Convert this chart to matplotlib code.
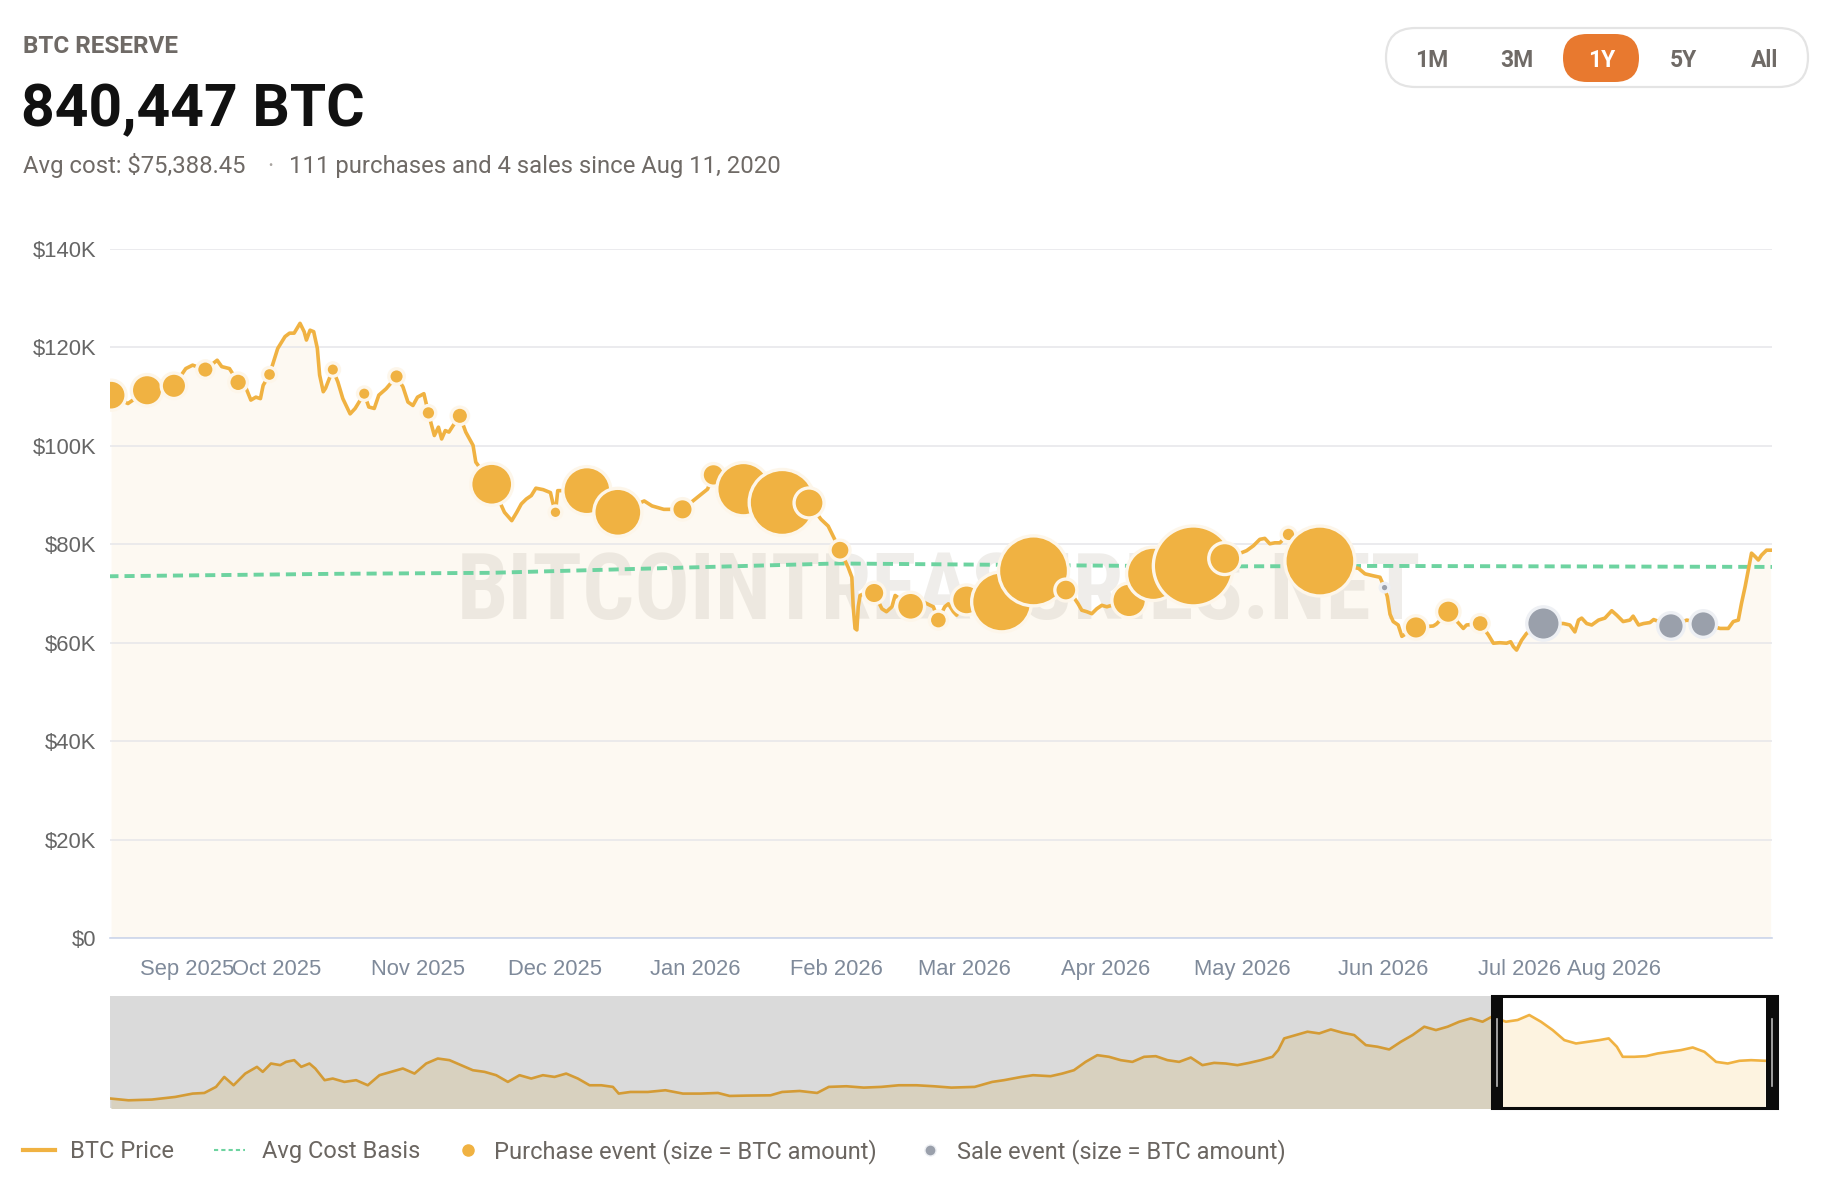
import numpy as np
import pandas as pd
import matplotlib
matplotlib.use("Agg")
import matplotlib.pyplot as plt
import matplotlib.dates as mdates
from matplotlib.patches import FancyBboxPatch, Rectangle
from matplotlib.lines import Line2D
from matplotlib.transforms import IdentityTransform
from matplotlib.ticker import FuncFormatter

W, H = 1830, 1190
start = pd.Timestamp("2025-08-25")

# BTC price, days after 2025-08-25, price in $K
price_days = [0.6, 4.3, 8.5, 14.4, 17.0, 18.5, 21.3, 23.9, 24.9, 26.6,
              28.5, 30.3, 31.3, 32.4, 33.4, 34.0, 35.4, 37.2, 38.8, 39.8,
              40.8, 42.1, 43.0, 43.5, 44.3, 45.1, 45.9, 46.4, 47.2, 47.7,
              49.3, 50.4, 51.5, 53.1, 54.2, 56.2, 57.2, 58.4, 59.4, 61.0,
              63.3, 64.7, 65.8, 66.9, 67.9, 69.3, 70.3, 70.9, 71.6, 72.5,
              73.2, 74.0, 74.8, 75.7, 77.2, 78.5, 80.1, 80.7, 84.2, 87.0,
              88.6, 89.7, 90.7, 91.8, 92.9, 93.9, 95.5, 97.1, 97.6, 98.2,
              98.7, 105.1, 111.9, 117.7, 119.4, 122.0, 126.1, 128.9, 131.6, 132.9,
              139.5, 148.0, 153.9, 156.5, 158.1, 160.7, 162.5, 163.3, 163.6, 164.0,
              164.4, 164.7, 165.1, 165.8, 168.2, 169.9, 170.9, 172.1, 172.8, 176.2,
              179.0, 180.5, 181.2, 182.3, 183.7, 184.5, 185.6, 186.3, 188.5, 196.2,
              203.2, 210.3, 212.0, 213.0, 213.8, 214.9, 216.0, 217.1, 218.2, 219.3,
              224.2, 229.5, 238.3, 245.2, 248.9, 250.0, 251.5, 252.9, 254.0, 255.1,
              256.2, 257.3, 259.2, 266.1, 274.6, 276.0, 277.8, 279.3, 280.3, 280.9,
              281.5, 282.2, 283.3, 284.1, 287.2, 291.0, 291.7, 294.3, 296.9, 297.6,
              298.3, 301.3, 303.1, 304.2, 305.6, 307.1, 308.0, 308.6, 309.3, 310.4,
              311.5, 315.2, 319.6, 321.0, 322.1, 322.9, 323.6, 324.7, 325.8, 327.3,
              328.7, 330.2, 331.3, 332.7, 334.2, 334.9, 336.1, 337.2, 338.6, 339.4,
              343.2, 346.7, 350.3, 354.0, 355.8, 356.9, 358.0, 358.7, 359.5, 360.2,
              360.9, 361.7, 362.4, 363.1, 364.2, 365.1]
price_k = [110.3, 108.6, 111.3, 112.2, 115.7, 116.4, 115.5, 117.4, 116.1, 115.7,
           112.9, 111.6, 109.3, 109.9, 109.6, 112.3, 114.5, 119.8, 122.2, 122.9,
           122.9, 124.9, 123.2, 121.5, 123.5, 123.2, 119.8, 114.4, 111.0, 111.7,
           115.5, 113.0, 109.6, 106.5, 107.6, 110.6, 107.9, 107.6, 110.3, 111.6,
           114.1, 112.0, 108.9, 108.2, 109.9, 110.6, 106.7, 104.5, 102.1, 103.8,
           101.4, 103.1, 102.8, 104.1, 106.1, 102.8, 100.1, 96.7, 92.2, 86.5,
           84.8, 86.5, 88.2, 89.2, 89.9, 91.4, 91.1, 90.5, 88.5, 86.5,
           90.9, 90.9, 86.5, 88.8, 87.8, 87.1, 87.1, 89.2, 91.2, 94.1,
           91.2, 88.5, 88.4, 85.1, 83.7, 78.8, 75.3, 73.3, 67.3, 62.9,
           62.6, 67.3, 69.6, 69.9, 70.1, 66.9, 66.3, 67.3, 69.6, 67.4,
           68.3, 67.6, 67.3, 64.6, 67.3, 67.9, 66.3, 65.6, 68.7, 68.3,
           74.6, 70.7, 69.3, 67.9, 66.6, 66.3, 65.9, 66.9, 67.6, 67.3,
           68.6, 74.0, 75.6, 77.1, 78.3, 78.7, 79.7, 81.0, 81.2, 80.1,
           80.3, 80.3, 82.0, 76.6, 75.1, 74.0, 73.6, 73.3, 71.2, 69.4,
           65.8, 64.3, 63.6, 61.3, 63.1, 63.4, 63.8, 66.3, 63.6, 62.9,
           63.6, 63.9, 61.6, 59.9, 60.0, 59.9, 60.2, 59.2, 58.5, 60.5,
           61.9, 63.9, 63.9, 63.6, 62.2, 64.6, 65.0, 63.9, 63.6, 64.6,
           65.0, 66.5, 65.6, 64.3, 64.6, 65.4, 63.6, 63.9, 64.1, 64.7,
           63.4, 64.6, 63.8, 62.9, 62.9, 64.3, 64.6, 68.0, 71.4, 74.8,
           78.2, 77.5, 76.8, 77.8, 78.8, 78.8]

# average cost basis ($K)
cost_days = [0, 50, 84, 112, 140, 160, 200, 240, 280, 365.4]
cost_k = [73.5, 74.0, 74.2, 74.9, 75.6, 76.1, 75.8, 75.5, 75.6, 75.4]

# purchase events
buy_days = [0.6, 8.5, 14.4, 21.3, 28.5, 35.4, 49.3, 56.2, 63.3, 70.3,
            77.2, 84.2, 98.2, 105.1, 111.9, 126.1, 132.9, 139.5, 148.0, 153.9,
            160.7, 168.2, 176.2, 182.3, 188.5, 196.2, 203.2, 210.3, 224.2, 229.5,
            238.3, 245.2, 259.2, 266.1, 287.2, 294.3, 301.3]
buy_k = [110.3, 111.3, 112.2, 115.5, 112.9, 114.5, 115.5, 110.6, 114.1, 106.7,
         106.1, 92.2, 86.5, 90.9, 86.5, 87.1, 94.1, 91.2, 88.5, 88.4,
         78.8, 70.1, 67.4, 64.6, 68.7, 68.3, 74.6, 70.7, 68.6, 74.0,
         75.6, 77.1, 82.0, 76.6, 63.1, 66.3, 63.9]
buy_btc = [3150, 3450, 2260, 1060, 1210, 690, 630, 630, 830, 750,
           1060, 6170, 560, 8060, 8060, 1600, 1790, 9980, 15250, 3150,
           1400, 1600, 2740, 1130, 3150, 12600, 17150, 1690, 4190, 9980,
           22400, 3580, 750, 17150, 1920, 1920, 1130]

# sale events
sell_days = [280.3, 315.2, 343.2, 350.3]
sell_k = [71.2, 63.9, 63.4, 63.8]
sell_btc = [260, 3900, 2480, 2480]

# navigator: full history, days relative to 2025-08-25, price in $K
nav_days = [-1839.4, -1816.1, -1785.1, -1754.1, -1730.9, -1715.4, -1699.9, -1689.0, -1676.6, -1661.1,
            -1645.6, -1637.9, -1627.0, -1614.7, -1606.9, -1596.1, -1586.8, -1575.9, -1568.2, -1555.8,
            -1545.0, -1529.5, -1514.0, -1498.5, -1483.0, -1467.5, -1452.0, -1436.5, -1421.0, -1405.6,
            -1390.1, -1374.6, -1359.1, -1343.6, -1328.1, -1312.6, -1297.1, -1281.6, -1266.1, -1250.7,
            -1235.2, -1219.7, -1204.2, -1188.7, -1173.2, -1165.5, -1150.0, -1126.8, -1103.5, -1080.3,
            -1057.1, -1033.8, -1018.3, -995.1, -964.1, -948.6, -925.4, -902.2, -886.7, -863.4,
            -840.2, -817.0, -793.8, -770.5, -747.3, -724.1, -693.1, -669.8, -654.3, -631.1,
            -615.6, -592.4, -576.9, -561.4, -545.9, -530.4, -514.9, -499.3, -483.8, -468.3,
            -452.8, -437.3, -421.8, -406.3, -390.9, -375.4, -359.9, -344.4, -328.9, -313.4,
            -297.9, -290.2, -282.4, -266.9, -251.4, -235.9, -220.5, -205.0, -189.5, -181.7,
            -174.0, -158.5, -143.0, -127.5, -112.0, -96.5, -81.0, -65.5, -50.0, -34.6,
            -19.1, -6.7, 11.9, 27.4, 42.9, 58.4, 73.9, 89.4, 104.9, 120.4,
            135.9, 148.3, 159.1, 166.9, 182.4, 197.8, 213.3, 228.8, 244.3, 259.8,
            275.3, 283.1, 290.8, 306.3, 321.8, 337.3, 355.9]
nav_k = [19.6, 17.7, 18.5, 21.4, 25.1, 25.8, 32.5, 43.5, 34.3, 47.2,
         54.6, 49.1, 58.3, 56.5, 60.1, 62.0, 54.6, 58.3, 52.8, 39.9,
         41.7, 38.0, 39.9, 34.3, 45.4, 49.1, 52.8, 47.2, 58.3, 63.8,
         62.0, 56.5, 50.9, 49.1, 45.4, 38.0, 45.4, 41.7, 45.4, 43.5,
         47.2, 41.7, 34.3, 34.3, 32.5, 25.1, 26.9, 26.9, 28.8, 25.1,
         25.1, 25.8, 22.5, 22.9, 23.2, 26.9, 28.0, 25.8, 32.5, 33.2,
         31.7, 32.5, 34.3, 34.3, 33.2, 31.7, 32.5, 38.0, 39.9, 43.5,
         45.4, 44.3, 47.2, 50.9, 60.1, 67.5, 65.7, 62.0, 60.1, 65.7,
         66.4, 62.0, 60.1, 64.9, 56.5, 59.0, 58.3, 56.5, 59.0, 62.0,
         65.7, 73.1, 86.0, 89.7, 93.4, 91.5, 95.9, 92.3, 89.7, 84.1,
         78.6, 76.8, 73.8, 82.3, 89.7, 98.9, 95.2, 98.9, 104.4, 108.1,
         104.4, 110.0, 104.4, 106.3, 111.8, 104.4, 95.2, 84.1, 80.4, 82.3,
         84.1, 86.0, 76.8, 65.7, 65.7, 66.4, 69.4, 71.2, 73.1, 76.0,
         71.2, 65.7, 60.1, 58.3, 61.3, 62.0, 61.3]

month_ticks = pd.date_range("2025-09-01", "2026-08-01", freq="MS")
ranges = ["1M", "3M", "1Y", "5Y", "All"]
active_range = "1Y"


def to_dates(days):
    return (start + pd.to_timedelta(np.asarray(days, dtype=float), unit="D")).to_numpy()


def fx(x):
    return x / W


def fy(y):
    return 1 - y / H


ORANGE = "#f0b242"
GREEN = "#6dd3a0"
GRAY_DOT = "#9aa0ab"
TXT = "#6b6661"
UI_FONT = ["Roboto", "DejaVu Sans"]
AX_FONT = ["Liberation Sans", "DejaVu Sans"]

plt.rcParams["font.family"] = UI_FONT

fig = plt.figure(figsize=(W / 100, H / 100), dpi=100)
fig.patch.set_facecolor("white")

# ---- main chart
ax = fig.add_axes([fx(110), fy(938), (1772 - 110) / W, (938 - 249) / H])
pd_dates = to_dates(price_days)
pv = np.array(price_k) * 1000

ax.fill_between(pd_dates, pv, 0, color="#fdf9f2", lw=0, zorder=1)
ax.text(0.4985, 0.5, "BITCOINTREASURIES.NET", transform=ax.transAxes,
        ha="center", va="center", fontsize=66, fontweight="bold",
        family=["Liberation Sans Narrow", "Roboto Condensed", "DejaVu Sans"],
        color="#b8b0a0", alpha=0.22, zorder=1.6)
ax.plot(to_dates(cost_days), np.array(cost_k) * 1000, color=GREEN, lw=2.8,
        dashes=(2.6, 1.55), zorder=3)
ax.plot(pd_dates, pv, color=ORANGE, lw=2.6, solid_joinstyle="round", zorder=4)
ax.scatter(to_dates(buy_days), np.array(buy_k) * 1000, s=np.array(buy_btc) * 0.148,
           color=ORANGE, edgecolors="#fdf6ea", linewidths=2.4, zorder=5)
ax.scatter(to_dates(sell_days), np.array(sell_k) * 1000, s=np.array(sell_btc) * 0.148,
           color=GRAY_DOT, edgecolors="#eef0f4", linewidths=2.4, zorder=6)

ax.set_xlim(start + pd.Timedelta(days=0.36), start + pd.Timedelta(days=365.4))
ax.set_ylim(0, 140000)
ax.set_yticks(np.arange(0, 140001, 20000))
ax.yaxis.set_major_formatter(FuncFormatter(lambda v, p: "$0" if v == 0 else f"${v / 1000:.0f}K"))
ax.set_xticks(month_ticks)
ax.set_xticklabels([m.strftime("%b %Y") for m in month_ticks])
xl = ax.get_xticklabels()
xl[0].set_ha("left")
xl[-1].set_ha("right")
for lab in ax.get_xticklabels() + ax.get_yticklabels():
    lab.set_family(AX_FONT)
    lab.set_fontsize(15.8)
ax.tick_params(axis="y", length=0, pad=9.6, labelcolor="#666666")
ax.tick_params(axis="x", length=0, pad=15, labelcolor="#7f8a9a")
ax.set_axisbelow("line")
ax.yaxis.grid(True, color="#e6e6ea", lw=1.1)
for side in ["top", "right", "left"]:
    ax.spines[side].set_visible(False)
ax.spines["bottom"].set_color("#ccd6eb")
ax.spines["bottom"].set_linewidth(1.2)
ax.set_facecolor("white")

# ---- navigator
nav = fig.add_axes([fx(110), fy(1108), 1662 / W, 112 / H])
nd = to_dates(nav_days)
nv = np.array(nav_k) * 1000
nav.set_facecolor("#dadada")
nav.fill_between(nd, nv, 0, color="#d8d1bf", lw=0, zorder=2)
nav.plot(nd, nv, color="#d49b35", lw=1.9, zorder=3)
nav.set_xlim(start + pd.Timedelta(days=-1840.6), start + pd.Timedelta(days=365.0))
nav.set_ylim(9200, 132800)
w0 = mdates.date2num(start.to_datetime64())
clip = Rectangle((w0, 9200), 365.0, 132800 - 9200, transform=nav.transData)
nav.axvspan(start, start + pd.Timedelta(days=365.0), color="white", lw=0, zorder=3.5)
f2 = nav.fill_between(nd, nv, 0, color="#fdf3e0", lw=0, zorder=4)
f2.set_clip_path(clip)
l2, = nav.plot(nd, nv, color=ORANGE, lw=1.9, zorder=5)
l2.set_clip_path(clip)
nav.set_xticks([])
nav.set_yticks([])
for s in nav.spines.values():
    s.set_visible(False)

idt = IdentityTransform()
fig.add_artist(Rectangle((1492, H - 1108), 1777 - 1492, 112, fill=False,
                         edgecolor="#0b0b0b", lw=2.2, transform=idt))
fig.add_artist(Rectangle((1491, H - 1108), 12, 112, facecolor="#0b0b0b",
                         edgecolor="none", transform=idt))
fig.add_artist(Rectangle((1766, H - 1108), 12, 112, facecolor="#0b0b0b",
                         edgecolor="none", transform=idt))
for gx in (1497, 1772):
    fig.add_artist(Line2D([gx, gx], [H - 1086, H - 1019], color="#b8b8b8",
                          lw=1.2, transform=idt))

# ---- header
fig.text(fx(23), fy(52.7), "BTC RESERVE", fontsize=17.5, fontweight="bold",
         color="#6f6a66", va="baseline")
fig.text(fx(21), fy(126.7), "840,447 BTC", fontsize=42.3, fontweight="bold",
         color="#111111", va="baseline")
fig.text(fx(23), fy(172.7), "Avg cost: $75,388.45", fontsize=17.2,
         color="#6f6a66", va="baseline")
fig.text(fx(270), fy(172.7), "·", fontsize=17.2, color="#a8a4a0",
         va="baseline", ha="center")
fig.text(fx(288.8), fy(172.7), "111 purchases and 4 sales since Aug 11, 2020",
         fontsize=17.2, color="#6f6a66", va="baseline")

# ---- range buttons
fig.add_artist(FancyBboxPatch((1386, H - 87), 1808 - 1386, 59,
                              boxstyle="round,pad=0,rounding_size=29.5",
                              facecolor="white", edgecolor="#e4e4e4", lw=1.6,
                              transform=idt))
fig.add_artist(FancyBboxPatch((1563, H - 82), 76, 48,
                              boxstyle="round,pad=0,rounding_size=24",
                              facecolor="#e8792f", edgecolor="none", transform=idt))
for lab, cx in zip(ranges, [1431.7, 1517.2, 1601.7, 1683.4, 1764.5]):
    fig.text(fx(cx), fy(66.8), lab, fontsize=16.5, fontweight="bold",
             color="white" if lab == active_range else "#6f6a66",
             ha="center", va="baseline")

# ---- legend
ly = H - 1150
fig.add_artist(Line2D([23, 55], [ly, ly], color=ORANGE, lw=3, transform=idt))
fig.add_artist(Line2D([214, 245], [ly, ly], color=GREEN, lw=1.5,
                      dashes=(2, 1.5), transform=idt))
fig.add_artist(Line2D([468], [ly], marker="o", markersize=8, color=ORANGE,
                      lw=0, transform=idt))
fig.add_artist(Line2D([930], [ly], marker="o", markersize=8, color=GRAY_DOT,
                      markeredgecolor="#eef0f4", lw=0, transform=idt))
for lx, txt in [(70, "BTC Price"), (261.5, "Avg Cost Basis"),
                (494, "Purchase event (size = BTC amount)"),
                (957, "Sale event (size = BTC amount)")]:
    fig.text(fx(lx), fy(1158), txt, fontsize=17, color=TXT, va="baseline")

fig.savefig("out.png", dpi=100)
